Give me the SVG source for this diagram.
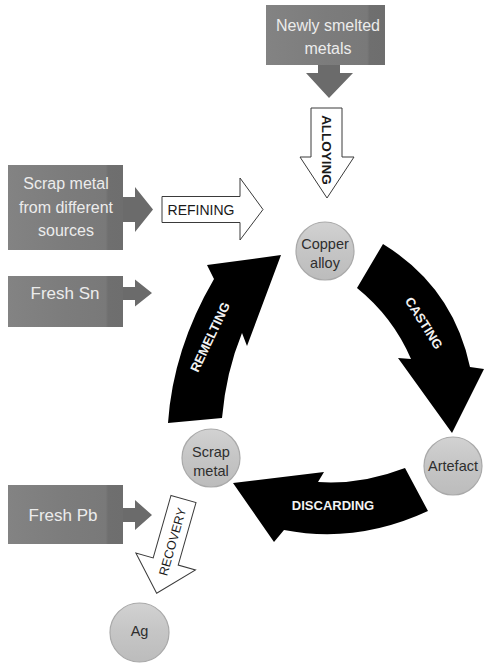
<svg xmlns="http://www.w3.org/2000/svg" width="484" height="664" viewBox="0 0 484 664">
<defs>
<linearGradient id="boxg" x1="0" y1="0" x2="1" y2="0">
<stop offset="0" stop-color="#838383"/>
<stop offset="0.5" stop-color="#7c7c7c"/>
<stop offset="0.85" stop-color="#797979"/>
<stop offset="0.87" stop-color="#6f6f6f"/>
<stop offset="1" stop-color="#6e6e6e"/>
</linearGradient>
<linearGradient id="circg" x1="0" y1="0" x2="0" y2="1">
<stop offset="0" stop-color="#d2d2d2"/>
<stop offset="0.45" stop-color="#c6c6c6"/>
<stop offset="1" stop-color="#bcbcbc"/>
</linearGradient>
</defs>
<style>
.box{fill:url(#boxg);}
.boxtxt{font-family:"Liberation Sans",Arial,sans-serif;fill:#ececec;text-anchor:middle;}
.garrow{fill:#6b6b6b;}
.circ{fill:url(#circg);stroke:#a9a9a9;stroke-width:1.2;}
.ctxt{font-family:"Liberation Sans",Arial,sans-serif;font-size:14.5px;fill:#2e2e2e;text-anchor:middle;}
.warrow{fill:#ffffff;stroke:#3a3a3a;stroke-width:1;}
.wtxt{font-family:"Liberation Sans",Arial,sans-serif;fill:#1a1a1a;text-anchor:middle;}
.barrow{fill:#000000;}
.btxt{font-family:"Liberation Sans",Arial,sans-serif;font-weight:bold;fill:#f2f2f2;text-anchor:middle;font-size:13px;}
</style>
<rect width="484" height="664" fill="#ffffff"/>

<g id="newly-smelted">
<rect class="box" x="266" y="5" width="119" height="60"/>
<text class="boxtxt" font-size="16" x="328" y="31">Newly smelted</text>
<text class="boxtxt" font-size="16" x="328" y="54">metals</text>
</g>

<g id="scrap-sources">
<rect class="box" x="8" y="165" width="115" height="85"/>
<text class="boxtxt" font-size="16" x="66" y="189">Scrap metal</text>
<text class="boxtxt" font-size="16" x="66" y="212.5">from different</text>
<text class="boxtxt" font-size="16" x="66" y="236">sources</text>
</g>

<g id="fresh-sn">
<rect class="box" x="8" y="276" width="115" height="51"/>
<text class="boxtxt" font-size="17" x="65" y="299">Fresh Sn</text>
</g>

<g id="fresh-pb">
<rect class="box" x="8" y="485" width="115" height="59"/>
<text class="boxtxt" font-size="17" x="63" y="521">Fresh Pb</text>
</g>

<g id="copper-alloy">
<circle class="circ" cx="325" cy="251" r="29"/>
<text class="ctxt" x="325" y="249">Copper</text>
<text class="ctxt" x="325" y="267.5">alloy</text>
</g>

<g id="artefact">
<circle class="circ" cx="453" cy="466" r="29"/>
<text class="ctxt" x="453" y="471">Artefact</text>
</g>

<g id="scrap-metal">
<circle class="circ" cx="211" cy="458" r="29"/>
<text class="ctxt" x="211" y="456.5">Scrap</text>
<text class="ctxt" x="211" y="476">metal</text>
</g>

<g id="ag">
<circle class="circ" cx="139.5" cy="632.5" r="29.5"/>
<text class="ctxt" x="139.5" y="636">Ag</text>
</g>

<g id="connectors">
<polygon class="garrow" points="318,65 340,65 340,73 353,73 329,98 306,73 318,73"/>
<polygon class="garrow" points="123,197 135,197 135,187 153,209.5 135,232 135,222 123,222"/>
<polygon class="garrow" points="123,287 135,287 135,279.5 152,293 135,306.5 135,300 123,300"/>
<polygon class="garrow" points="123,508 135,508 135,500 152,515 135,530 135,522 123,522"/>

<g id="alloying">
<polygon class="warrow" points="311,108 342,108 342,157 354,157 327,198 300,157 311,157"/>
<text class="wtxt" font-size="13.5" font-weight="bold" transform="translate(327,150) rotate(90)" x="0" y="4.8">ALLOYING</text>
</g>

<g id="refining">
<polygon class="warrow" points="162,196.5 240,196.5 240,178 263,209.5 240,240 240,222.5 162,222.5"/>
<text class="wtxt" font-size="14" x="201" y="214.5">REFINING</text>
</g>

<g id="recovery" transform="translate(183.5,499) rotate(15.9)">
<polygon class="warrow" points="-13,0 13,0 13,65 31,65 0,98 -31,65 -13,65"/>
<text class="wtxt" font-size="12.5" transform="translate(1,44) rotate(-90)" x="0" y="4.4">RECOVERY</text>
</g>

<g id="casting">
<path class="barrow" d="M383,244 Q453,287 470,367 L484,369 L452,433 L398,358 L411,359 Q393,317 357,288 Z"/>
<text class="btxt" transform="translate(424,323) rotate(57.6)" x="0" y="4.6">CASTING</text>
</g>

<g id="discarding">
<path class="barrow" d="M233,483 L324,472 L318,482 Q361,485 405,468 L428,511 Q357,544 284,530 L274,542 Z"/>
<text class="btxt" font-size="13.5" x="333" y="509.8">DISCARDING</text>
</g>

<g id="remelting">
<path class="barrow" d="M168,423 Q173,349 214,279 L207,265 L281,255 L247,346 L242,333 Q226,372 222,418 Z"/>
<text class="btxt" transform="translate(210,337) rotate(-64.6)" x="0" y="4.6">REMELTING</text>
</g>
</g>
</svg>
